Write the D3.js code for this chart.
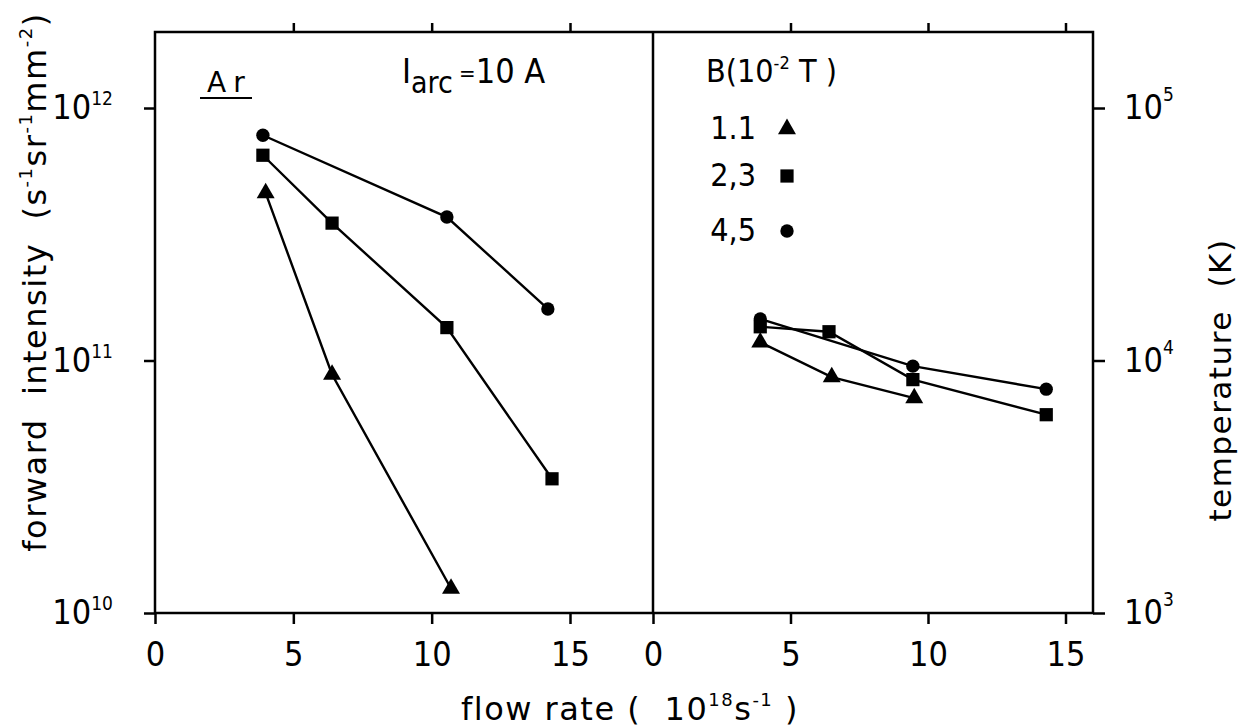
<!DOCTYPE html>
<html><head><meta charset="utf-8">
<script src="https://cdn.jsdelivr.net/npm/d3@7"></script>
<style>
html,body{margin:0;padding:0;background:#fff;}
svg{display:block;}
text{fill:#000;}
.num{font-family:'DejaVu Sans Condensed','Liberation Sans Narrow','Roboto Condensed',sans-serif;font-stretch:condensed;}
.lab{font-family:'DejaVu Sans',sans-serif;white-space:pre;}
</style></head>
<body>
<script>
// ---- data ----
const flowTicks = [0, 5, 10, 15];
const flowTopTicks = [5, 10, 15];
const intensityTicks = [1e10, 1e11, 1e12];
const intensityTickExp = ["10", "11", "12"];
const tempTicks = [1e3, 1e4, 1e5];
const tempTickExp = ["3", "4", "5"];

// left panel: forward intensity (s^-1 sr^-1 mm^-2)
const intFlowTriangle = [4.0, 6.4, 10.7];
const intTriangle = [4.6e11, 8.8e10, 1.25e10];
const intFlowSquare = [3.9, 6.4, 10.55, 14.35];
const intSquare = [6.5e11, 3.5e11, 1.35e11, 3.4e10];
const intFlowCircle = [3.9, 10.55, 14.2];
const intCircle = [7.8e11, 3.7e11, 1.6e11];

// right panel: temperature (K)
const tFlowTriangle = [3.9, 6.5, 9.5];
const tTriangle = [11800, 8600, 7100];
const tFlowSquare = [3.9, 6.4, 9.45, 14.3];
const tSquare = [13600, 13000, 8400, 6100];
const tFlowCircle = [3.9, 9.45, 14.3];
const tCircle = [14600, 9500, 7700];

const legendB = ["1.1", "2,3", "4,5"];
const legendShapes = ["triangle", "square", "circle"];

// ---- drawing ----
const W = 1246, H = 728;
const svg = d3.select("body").append("svg").attr("width", W).attr("height", H);
svg.append("rect").attr("width", W).attr("height", H).attr("fill", "#fff");

const X0 = 155, XM = 653, X1 = 1093, YT = 32, YB = 613;
const xL = d3.scaleLinear().domain([0, 18]).range([X0, XM]);
const xR = d3.scaleLinear().domain([0, 16]).range([XM, X1]);
const yL = d3.scaleLog().domain([1e10, 2e12]).range([YB, YT]);
const yR = d3.scaleLog().domain([1e3, 2e5]).range([YB, YT]);

const symType = {triangle: d3.symbolTriangle, square: d3.symbolSquare, circle: d3.symbolCircle};
const symSize = {triangle: 140, square: 175, circle: 140};

// frame
svg.append("rect").attr("x", X0).attr("y", YT).attr("width", X1 - X0).attr("height", YB - YT)
  .attr("fill", "none").attr("stroke", "#000").attr("stroke-width", 2.5);
svg.append("line").attr("x1", XM).attr("x2", XM).attr("y1", YT).attr("y2", YB)
  .attr("stroke", "#000").attr("stroke-width", 2.5);

function styleAxis(g) {
  g.select(".domain").remove();
  g.selectAll(".tick line").attr("stroke", "#000").attr("stroke-width", 2.5);
}
function bottomAxis(x) {
  const g = svg.append("g").attr("transform", `translate(0,${YB})`)
    .call(d3.axisBottom(x).tickValues(flowTicks).tickSize(11).tickPadding(18).tickFormat(d3.format("d")));
  styleAxis(g);
  g.selectAll(".tick text").attr("class", "num").attr("font-size", 34).attr("fill", "#000");
}
function topAxis(x) {
  const g = svg.append("g").attr("transform", `translate(0,${YT})`)
    .call(d3.axisTop(x).tickValues(flowTopTicks).tickSize(9).tickFormat(""));
  styleAxis(g);
}
bottomAxis(xL); bottomAxis(xR); topAxis(xL); topAxis(xR);

const gyl = svg.append("g").attr("transform", `translate(${X0},0)`)
  .call(d3.axisLeft(yL).tickValues(intensityTicks).tickSize(11).tickFormat(""));
styleAxis(gyl);
const gyr = svg.append("g").attr("transform", `translate(${X1},0)`)
  .call(d3.axisRight(yR).tickValues(tempTicks).tickSize(12).tickFormat(""));
styleAxis(gyr);

// y tick labels with superscripts
intensityTicks.forEach((v, i) => {
  const t = svg.append("text").attr("class", "num").attr("font-size", 34)
    .attr("x", 113).attr("y", yL(v) + 11).attr("text-anchor", "end");
  t.append("tspan").text("10");
  t.append("tspan").attr("font-size", 19).attr("dy", -14).text(intensityTickExp[i]);
});
tempTicks.forEach((v, i) => {
  const t = svg.append("text").attr("class", "num").attr("font-size", 34)
    .attr("x", 1124).attr("y", yR(v) + 11).attr("text-anchor", "start");
  t.append("tspan").text("10");
  t.append("tspan").attr("font-size", 19).attr("dy", -18).text(tempTickExp[i]);
});

// series
function series(x, y, xs, ys, shape) {
  const pts = xs.map((d, i) => [x(d), y(ys[i])]);
  svg.append("path").attr("d", d3.line()(pts)).attr("fill", "none")
    .attr("stroke", "#000").attr("stroke-width", 2.4);
  svg.append("g").selectAll("path").data(pts).join("path")
    .attr("transform", d => `translate(${d[0]},${d[1]})`)
    .attr("d", d3.symbol().type(symType[shape]).size(symSize[shape]))
    .attr("fill", "#000");
}
series(xL, yL, intFlowTriangle, intTriangle, "triangle");
series(xL, yL, intFlowSquare, intSquare, "square");
series(xL, yL, intFlowCircle, intCircle, "circle");
series(xR, yR, tFlowTriangle, tTriangle, "triangle");
series(xR, yR, tFlowSquare, tSquare, "square");
series(xR, yR, tFlowCircle, tCircle, "circle");

// "Ar" label
svg.append("text").attr("class", "lab").attr("font-size", 28).attr("letter-spacing", 7)
  .attr("x", 207).attr("y", 92).text("Ar");
svg.append("line").attr("x1", 200).attr("x2", 252).attr("y1", 98).attr("y2", 98)
  .attr("stroke", "#000").attr("stroke-width", 2);

// I_arc = 10 A
{
  const t = svg.append("text").attr("class", "num").attr("font-size", 34).attr("x", 402).attr("y", 83);
  t.append("tspan").text("I");
  t.append("tspan").attr("font-size", 30).attr("dy", 10).text("arc");
  t.append("tspan").attr("font-size", 22).attr("dy", -12).text(" =");
  t.append("tspan").attr("dy", 2).text("10 A");
}

// legend
{
  const t = svg.append("text").attr("class", "num").attr("font-size", 32).attr("x", 706).attr("y", 82);
  t.append("tspan").text("B(10");
  t.append("tspan").attr("font-size", 18).attr("dy", -13).text("-2");
  t.append("tspan").attr("dy", 13).text(" T )");
}
const legY = [129, 176, 231];
legendB.forEach((b, i) => {
  svg.append("text").attr("class", "num").attr("font-size", 32).attr("text-anchor", "end")
    .attr("x", 756).attr("y", legY[i] + 10).text(b);
  svg.append("path").attr("transform", `translate(787,${legY[i]})`)
    .attr("d", d3.symbol().type(symType[legendShapes[i]]).size(symSize[legendShapes[i]]))
    .attr("fill", "#000");
});

// axis titles
{
  const t = svg.append("text").attr("class", "lab").attr("font-size", 32).attr("letter-spacing", 1.5)
    .attr("text-anchor", "middle").attr("transform", "translate(630,720)");
  t.append("tspan").text("flow rate (  10");
  t.append("tspan").attr("font-size", 18).attr("dy", -14).text("18");
  t.append("tspan").attr("dy", 14).text("s");
  t.append("tspan").attr("font-size", 18).attr("dy", -14).text("-1");
  t.append("tspan").attr("dy", 14).text(" )");
}
{
  const t = svg.append("text").attr("class", "lab").attr("font-size", 32).attr("letter-spacing", 1.5)
    .attr("text-anchor", "middle").attr("transform", "translate(46,282) rotate(-90)");
  t.append("tspan").text("forward  intensity  (s");
  t.append("tspan").attr("font-size", 18).attr("dy", -14).text("-1");
  t.append("tspan").attr("dy", 14).text("sr");
  t.append("tspan").attr("font-size", 18).attr("dy", -14).text("-1");
  t.append("tspan").attr("dy", 14).text("mm");
  t.append("tspan").attr("font-size", 18).attr("dy", -14).text("-2");
  t.append("tspan").attr("dy", 14).text(")");
}
svg.append("text").attr("class", "lab").attr("font-size", 31).attr("letter-spacing", 1.5)
  .attr("text-anchor", "middle").attr("transform", "translate(1231,380) rotate(-90)")
  .text("temperature  (K)");
</script>
</body></html>
